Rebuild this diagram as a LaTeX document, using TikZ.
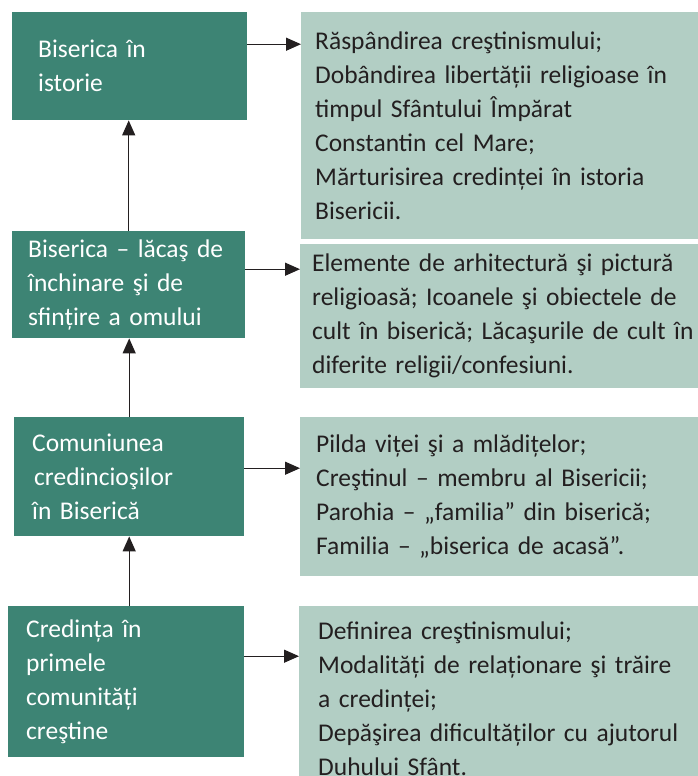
\documentclass[tikz,border=0pt]{standalone}
\usepackage{fontspec}
\setmainfont{Carlito}[WordSpace=0.85]
\usetikzlibrary{arrows.meta}
\definecolor{custom_teal}{HTML}{3D8474}
\definecolor{custom_mint}{HTML}{B2CEC4}
\definecolor{custom_ink}{HTML}{231F20}

\begin{document}
\begin{tikzpicture}[x=1pt, y=-1pt,
        topic/.style={fill=custom_teal, text=white, anchor=north west, align=left, inner ysep=0pt, font=\fontsize{25.5}{34}\selectfont},
        detail/.style={fill=custom_mint, text=custom_ink, anchor=north west, align=left, inner ysep=0pt, text width=390pt, font=\fontsize{25.5}{34}\selectfont},
        arr/.style={draw=custom_ink, line width=1.3pt, -{Triangle[length=15pt, width=13pt]}}]
                \useasboundingbox (0,0) rectangle (698,776);
                \clip (0,0) rectangle (698,776);

                % left column
                \node (d1) at (12,12) [topic, inner xsep=26pt, text width=183pt, minimum height=108pt] {Biserica în\\istorie};
                \node (d2) at (12,231) [topic, inner xsep=16pt, text width=201pt, minimum height=107pt] {Biserica – lăcaş de\\închinare şi de\\sfințire a omului};
                \node (d3) at (14,417) [topic, inner xsep=18pt, text width=194pt, minimum height=119pt] {Comuniunea\\\hspace{2pt}credincioşilor\\în Biserică};
                \node (d4) at (8,606) [topic, inner xsep=18pt, text width=200pt, minimum height=151pt] {Credința în\\primele\\comunități\\creştine};

                % right column
                \node (l1) at (301,12) [detail, inner xsep=14pt, minimum height=227pt] {Răspândirea creştinismului;\\Dobândirea libertății religioase în\\timpul Sfântului Împărat\\Constantin cel Mare;\\Mărturisirea credinței în istoria\\Bisericii.};
                \node (l2) at (300,244) [detail, inner xsep=12pt, minimum height=144pt] {Elemente de arhitectură şi pictură\\religioasă; Icoanele şi obiectele de\\cult în biserică; Lăcaşurile de cult în\\diferite religii/confesiuni.};
                \node (l3) at (300,417) [detail, inner xsep=16pt, minimum height=159pt] {Pilda viței şi a mlădițelor;\\Creştinul – membru al Bisericii;\\Parohia – „familia” din biserică;\\Familia – „biserica de acasă”.};
                \node (l4) at (299,606) [detail, inner xsep=19pt, minimum height=185pt] {Definirea creştinismului;\\Modalități de relaționare şi trăire\\a credinței;\\Depăşirea dificultăților cu ajutorul\\Duhului Sfânt.};

                \draw[arr] (d2.north) -- (d2.north |- d1.south);
                \draw[arr] (d3.north) -- (d3.north |- d2.south);
                \draw[arr] (d3.south |- d4.north) -- (d3.south);

                \draw[arr] ([yshift=22pt]d1.east) -- ([yshift=22pt]d1.east -| l1.west);
                \draw[arr] ([yshift=15.5pt]d2.east) -- ([yshift=15.5pt]d2.east -| l2.west);
                \draw[arr] ([yshift=8.5pt]d3.east) -- ([yshift=8.5pt]d3.east -| l3.west);
                \draw[arr] ([yshift=25.5pt]d4.east) -- ([yshift=25.5pt]d4.east -| l4.west);
\end{tikzpicture}
\end{document}
